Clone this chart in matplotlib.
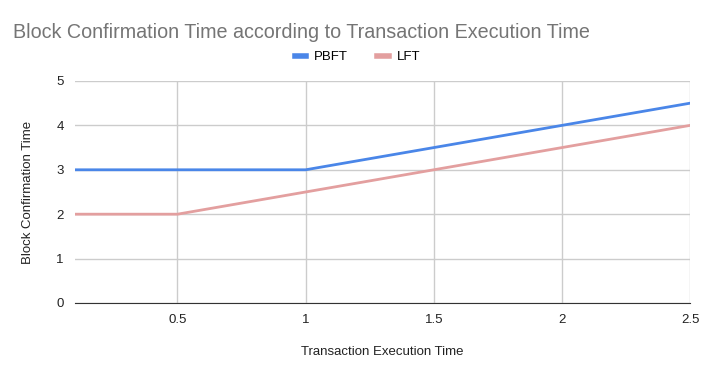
import matplotlib.pyplot as plt

# datos
x_vals = [0.1, 0.5, 1.0, 1.5, 2.0, 2.5]
pbft = [3, 3, 3, 3.5, 4, 4.5]
lft = [2, 2, 2.5, 3, 3.5, 4]
x_ticks = [0.5, 1, 1.5, 2, 2.5]
y_ticks = [0, 1, 2, 3, 4, 5]

plt.rcParams['font.family'] = ['Liberation Sans', 'DejaVu Sans']

fig = plt.figure(figsize=(7.08, 3.69), dpi=100)
ax = fig.add_axes([0.1059, 0.1789, 0.8687, 0.6016])

ax.plot(x_vals, pbft, color='#4a86e8', linewidth=2, label='PBFT')
ax.plot(x_vals, lft, color='#e39f9f', linewidth=2, label='LFT')

ax.set_xlim(0.1, 2.5)
ax.set_ylim(0, 5)
ax.set_xticks(x_ticks)
ax.set_xticklabels(['0.5', '1', '1.5', '2', '2.5'])
ax.set_yticks(y_ticks)
ax.grid(True, color='#cccccc', linewidth=1)
ax.set_axisbelow(True)
for s in ['top', 'right', 'left']:
    ax.spines[s].set_visible(False)
ax.spines['bottom'].set_color('#333333')
ax.tick_params(length=0, labelsize=9.5, colors='#222222', pad=8)

ax.set_xlabel('Transaction Execution Time', fontsize=9.5, color='#222222', labelpad=14)
ax.set_ylabel('Block Confirmation Time', fontsize=9.5, color='#222222', labelpad=16)

fig.text(0.018, 0.913, 'Block Confirmation Time according to Transaction Execution Time',
         fontsize=14.2, color='#757575', va='center', ha='left')

fig.legend(loc='center', bbox_to_anchor=(0.505, 0.845), ncol=2, frameon=False,
           fontsize=9.5, handlelength=0.9, handleheight=0.5, columnspacing=2.2,
           handletextpad=0.6)
for line in fig.legends[0].get_lines():
    line.set_linewidth(4)

plt.savefig('out.png', dpi=100)
